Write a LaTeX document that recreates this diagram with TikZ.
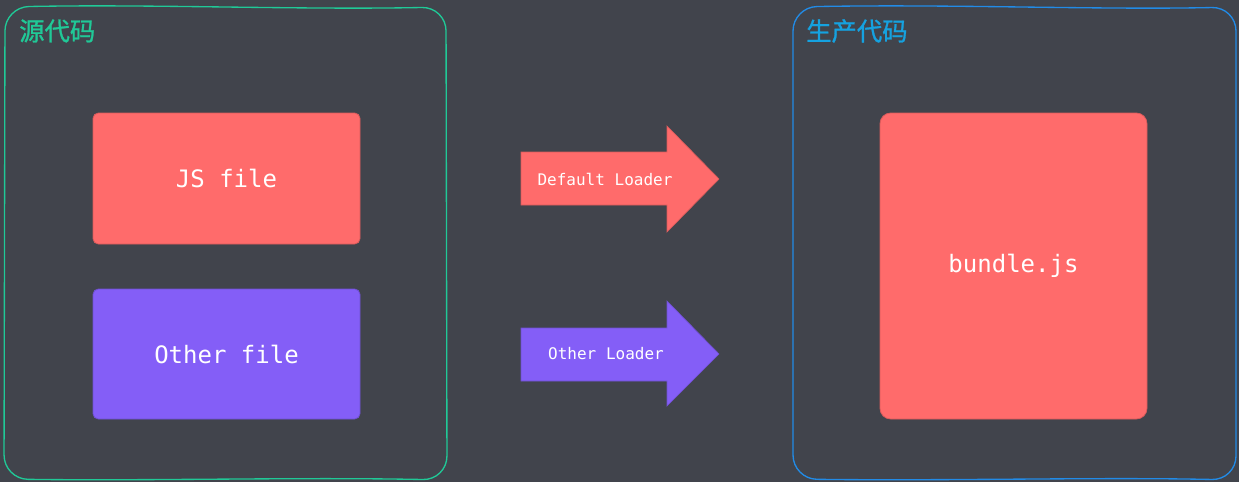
\documentclass[tikz,border=0pt]{standalone}
\usepackage{fontspec}
\setmonofont{DejaVu Sans Mono}
\newfontfamily\cjk[FakeBold=1]{Noto Sans CJK SC}
\definecolor{bgc}{HTML}{41444C}
\definecolor{redc}{HTML}{FF6B6B}
\definecolor{purc}{HTML}{845EF7}
\definecolor{greenc}{HTML}{20C997}
\definecolor{bluec}{HTML}{228BE6}
\definecolor{bluet}{HTML}{15A2E0}
\tikzset{
  filebox/.style={draw=#1!85!black, line width=0.6pt, fill=#1, rounded corners=4pt, text=white,
     font=\ttfamily\fontsize{18}{21}\selectfont, inner sep=0pt},
  arrowshape/.style={fill=#1, draw=#1!85!black, line width=0.5pt},
  arrowlabel/.style={text=white, font=\ttfamily\fontsize{12}{14}\selectfont, inner sep=0pt},
  container/.style={draw=#1, line width=1pt, rounded corners=18pt},
  title/.style={text=#1, font=\cjk\fontsize{19}{22}\selectfont, anchor=west, inner sep=0pt},
}
\begin{document}
\begin{tikzpicture}[x=0.75pt,y=-0.75pt]
\fill[bgc] (0,0) rectangle (1239,482);
\useasboundingbox (0,0) rectangle (1239,482);
% containers
\draw[container=greenc] (5,7) .. controls (150,4) and (300,10) .. (446,7) -- (447,480) .. controls (300,477) and (150,481) .. (4,479) -- cycle;
\draw[container=bluec] (793,7) .. controls (950,4) and (1100,10) .. (1236,7) -- (1236,480) .. controls (1100,477) and (950,481) .. (793,479) -- cycle;
\node[title=greenc] (t1) at (19,31) {源代码};
\node[title=bluet] (t2) at (806,31) {生产代码};
% file boxes
\node[filebox=redc, minimum width=267*0.75pt, minimum height=131*0.75pt] (js) at (226.5,178.5) {JS file};
\node[filebox=purc, minimum width=267*0.75pt, minimum height=130*0.75pt] (other) at (226.5,354) {Other file};
\node[filebox=redc, minimum width=267*0.75pt, minimum height=306*0.75pt, rounded corners=8pt] (bundle) at (1013.5,266) {\raisebox{-3pt}{bundle.js}};
% arrows
\draw[arrowshape=redc] (521,152) -- (667,152) -- (667,126) -- (719,179) -- (667,232) -- (667,205) -- (521,205) -- cycle;
\node[arrowlabel] (dl) at (605,179) {Default Loader};
\draw[arrowshape=purc] (521,328) -- (667,328) -- (667,301) -- (719,354) -- (667,406) -- (667,381) -- (521,381) -- cycle;
\node[arrowlabel] (ol) at (606,354) {Other Loader};
\end{tikzpicture}
\end{document}
